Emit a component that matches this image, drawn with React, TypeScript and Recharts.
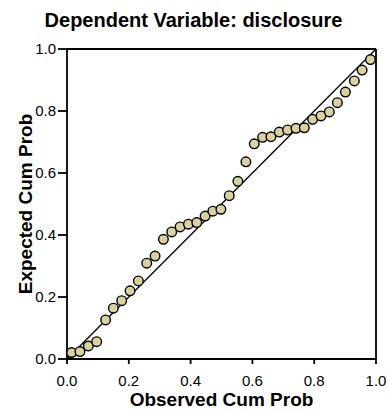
import { ScatterChart, Scatter, XAxis, YAxis, ReferenceLine, Label } from 'recharts'

const observedCumProb = [
    0.015, 0.042, 0.069, 0.096, 0.125, 0.15, 0.177, 0.204, 0.231, 0.258,
    0.285, 0.312, 0.339, 0.366, 0.393, 0.42, 0.447, 0.472, 0.498, 0.525,
    0.553, 0.579, 0.606, 0.633, 0.66, 0.687, 0.714, 0.741, 0.768, 0.795,
    0.822, 0.849, 0.875, 0.901, 0.93, 0.955, 0.982,
]

const expectedCumProb = [
    0.021, 0.024, 0.042, 0.056, 0.126, 0.164, 0.188, 0.22, 0.252, 0.309,
    0.332, 0.386, 0.41, 0.426, 0.435, 0.44, 0.461, 0.477, 0.483, 0.527,
    0.573, 0.636, 0.694, 0.715, 0.717, 0.732, 0.739, 0.744, 0.746, 0.773,
    0.784, 0.797, 0.827, 0.861, 0.897, 0.932, 0.966,
]

const axisTicks = [0, 0.2, 0.4, 0.6, 0.8, 1]

const points = observedCumProb.map((x, i) => ({ x, y: expectedCumProb[i] }))

const font = '"Liberation Sans", Arial, sans-serif'

function Dot(props: { cx?: number; cy?: number }) {
    const { cx = 0, cy = 0 } = props
    return <circle cx={cx} cy={cy} r={4.8} fill="#d9d2a0" stroke="#000" strokeWidth={1.4} />
}

export default function App() {
    return (
        <div style={{ position: 'absolute', left: 0, top: 0, width: 387, height: 412, fontFamily: font }}>
            <div
                style={{
                    position: 'absolute',
                    top: 10,
                    left: 0,
                    width: 387,
                    textAlign: 'center',
                    fontSize: 20,
                    lineHeight: '20px',
                    fontWeight: 'bold',
                }}
            >
                Dependent Variable: disclosure
            </div>
            <ScatterChart width={387} height={412} margin={{ top: 49, right: 11, bottom: 0, left: 0 }}>
                <XAxis
                    type="number"
                    dataKey="x"
                    domain={[0, 1]}
                    ticks={axisTicks}
                    tickFormatter={(v: number) => v.toFixed(1)}
                    height={53}
                    tickSize={5}
                    tickMargin={11}
                    stroke="#000"
                    strokeWidth={1.8}
                    tick={{ fill: '#000', fontSize: 15, fontFamily: font }}
                >
                    <Label
                        value="Observed Cum Prob"
                        position="insideBottom"
                        offset={6}
                        style={{ fontSize: 19, fontWeight: 'bold', fill: '#000', fontFamily: font }}
                    />
                </XAxis>
                <YAxis
                    type="number"
                    dataKey="y"
                    domain={[0, 1]}
                    ticks={axisTicks}
                    tickFormatter={(v: number) => v.toFixed(1)}
                    width={67}
                    tickSize={9}
                    tickMargin={2}
                    stroke="#000"
                    strokeWidth={1.8}
                    tick={{ fill: '#000', fontSize: 15, fontFamily: font }}
                >
                    <Label
                        value="Expected Cum Prob"
                        angle={-90}
                        position="insideLeft"
                        offset={25}
                        style={{ fontSize: 19, fontWeight: 'bold', fill: '#000', fontFamily: font, textAnchor: 'middle' }}
                    />
                </YAxis>
                <ReferenceLine y={1} stroke="#000" strokeWidth={1.8} />
                <ReferenceLine x={1} stroke="#000" strokeWidth={1.8} />
                <ReferenceLine segment={[{ x: 0, y: 0 }, { x: 1, y: 1 }]} stroke="#000" strokeWidth={1.3} />
                <Scatter data={points} shape={<Dot />} isAnimationActive={false} />
            </ScatterChart>
        </div>
    )
}
